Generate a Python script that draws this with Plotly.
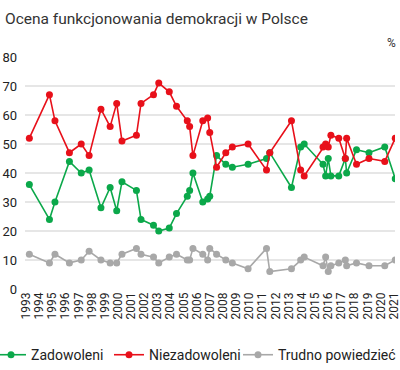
import plotly.graph_objects as go

dates = [1993.25, 1994.78, 1995.2, 1996.3, 1997.2, 1997.8, 1998.7, 1999.4, 1999.9,
         2000.3, 2001.4, 2001.75, 2002.7, 2003.1, 2003.9, 2004.45, 2005.27, 2005.45,
         2005.7, 2006.45, 2006.82, 2006.98, 2007.5, 2008.2, 2008.7, 2009.9, 2011.3,
         2011.55, 2013.2, 2013.9, 2014.17, 2015.6, 2015.8, 2016.0, 2016.2, 2016.8,
         2017.3, 2017.4, 2018.15, 2019.1, 2020.3, 2021.1]

zadowoleni = [36, 24, 30, 44, 40, 41, 28, 35, 27,
              37, 34, 24, 22, 20, 21, 26, 32, 34,
              40, 30, 31, 32, 46, 43, 42, 43, 45,
              47, 35, 49, 50, 43, 39, 45, 39, 39,
              45, 40, 48, 47, 49, 38]

niezadowoleni = [52, 67, 58, 47, 50, 46, 62, 56, 64,
                 51, 53, 64, 67, 71, 68, 63, 58, 56,
                 46, 58, 59, 54, 42, 47, 49, 50, 41,
                 47, 58, 41, 39, 49, 50, 49, 53, 52,
                 45, 52, 43, 45, 44, 52]

trudno = [12, 9, 12, 9, 10, 13, 10, 9, 9,
          12, 14, 12, 11, 9, 11, 12, 10, 10,
          14, 12, 10, 14, 12, 10, 9, 7, 14,
          6, 7, 10, 11, 8, 11, 6, 8, 9,
          10, 8, 9, 8, 8, 10]

years = list(range(1993, 2022))
y_ticks = [0, 10, 20, 30, 40, 50, 60, 70, 80]

series = [
    ("Zadowoleni", zadowoleni, "#0ba84a", "legend"),
    ("Niezadowoleni", niezadowoleni, "#e8101a", "legend2"),
    ("Trudno powiedzieć", trudno, "#a8a8a8", "legend3"),
]

fig = go.Figure()
for name, vals, col, lg in series:
    fig.add_trace(go.Scatter(
        x=dates, y=vals, name=name, mode="lines+markers",
        line=dict(color=col, width=1.6),
        marker=dict(color=col, size=7),
        legend=lg,
    ))

W, H = 400, 370
ml, mr, mt = 25, 5, 57
plot_h = 232
mb = H - mt - plot_h
plot_w = W - ml - mr


def legend_at(px):
    return dict(orientation="h", x=(px - ml) / plot_w, xanchor="left",
                y=-0.285, yanchor="middle", font=dict(size=14, color="#222222"),
                itemwidth=30, bgcolor="rgba(0,0,0,0)")


fig.update_layout(
    width=W, height=H,
    margin=dict(l=ml, r=mr, t=mt, b=mb, autoexpand=False),
    paper_bgcolor="white", plot_bgcolor="white",
    font=dict(family="Roboto", color="#222222"),
    title=dict(text="Ocena funkcjonowania demokracji w Polsce",
               x=0.0125, xanchor="left", y=0.951, yanchor="middle",
               font=dict(size=15.5, color="#333333")),
    showlegend=True,
    legend=legend_at(-9),
    legend2=legend_at(109),
    legend3=legend_at(238),
    annotations=[dict(text="%", x=1 + 3 / plot_w, xref="paper", xanchor="right",
                      y=1 + (57 - 43) / plot_h, yref="paper", yanchor="middle",
                      showarrow=False, font=dict(size=12, color="#333333"))],
)

fig.update_xaxes(range=[1992.92, 2021.08], tickmode="array", tickvals=years,
                 ticktext=[str(y) for y in years], tickangle=-90,
                 tickfont=dict(size=12, color="#222222"), showgrid=False,
                 zeroline=False, showline=False, ticks="", ticklabeloverflow="allow")
fig.update_yaxes(range=[0, 80], tickvals=y_ticks, tickfont=dict(size=13, color="#222222"),
                 gridcolor="#e6e6e6", gridwidth=1.5, zeroline=False, showline=False,
                 ticks="", ticklabelstandoff=7)

fig.write_html(
    "out.html",
    config={"displayModeBar": False},
    post_script="document.body.style.margin='0';document.documentElement.style.overflow='hidden';",
)
